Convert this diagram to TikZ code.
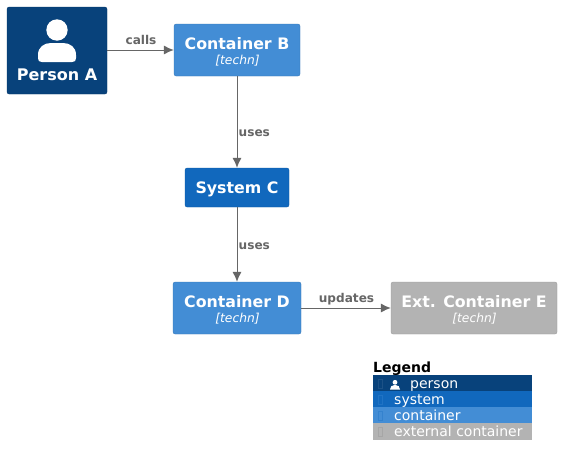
\documentclass[tikz,border=0pt]{standalone}
\usepackage{fontspec}
\setmainfont{DejaVu Sans}
\usetikzlibrary{arrows.meta}
\definecolor{personc}{HTML}{08427B}
\definecolor{systemc}{HTML}{1168BD}
\definecolor{containerc}{HTML}{438DD5}
\definecolor{extc}{HTML}{B3B3B3}
\definecolor{linec}{HTML}{666666}
\tikzset{
  x=1pt,y=-1pt,
  boxn/.style={draw=#1!85!black,line width=0.3pt,fill=#1,rounded corners=2pt,text=white,align=center,inner sep=0pt,font=\fontsize{15.8}{19}\selectfont\bfseries},
  conn/.style={draw=linec,line width=1pt,-{Latex[length=10pt,width=9pt,color=linec]}},
  rel/.style={text=linec,font=\fontsize{12.1}{14}\selectfont\bfseries,inner sep=0pt},
  legrow/.style={anchor=north west,minimum width=159pt,inner sep=0pt,outer sep=0pt},
  legtext/.style={anchor=base west,text=white,inner sep=0pt,font=\fontsize{14}{16}\selectfont},
  tofu/.style={draw=#1,line width=0.4pt,minimum width=4pt,minimum height=9pt,inner sep=0pt},
}
\newcommand{\lowr}[1]{\raisebox{-2pt}[\height][\depth]{#1}}
\newcommand{\tech}{\\[-4.5pt]\lowr{\fontsize{12.3}{14}\selectfont\mdseries\itshape\hspace{1pt}[techn]}}
\begin{document}
\begin{tikzpicture}
\useasboundingbox (0,0) rectangle (561,466);
\fill[white] (0,0) rectangle (561,466);
\node[boxn=personc,minimum width=100pt,minimum height=87pt] (a) at (57,50.5) {};
\node[text=white,font=\fontsize{16}{19}\selectfont\bfseries,inner sep=0pt] (alabel) at (57,75) {Person A};
\fill[white] (57,30) circle (10.7);
\fill[white] (38,58) -- (38,55) .. controls (38,47) and (44,43) .. (51,43) -- (63,43) .. controls (70,43) and (76,47) .. (76,55) -- (76,58) .. controls (76,61) and (75,62) .. (72,62) -- (42,62) .. controls (39,62) and (38,61) .. (38,58) -- cycle;
\node[boxn=containerc,minimum width=126pt,minimum height=52pt] (b) at (237,50) {\lowr{Container B}\tech};
\node[boxn=systemc,minimum width=104pt,minimum height=39pt] (c) at (237,187.5) {\lowr{System C}};
\node[boxn=containerc,minimum width=128pt,minimum height=52pt] (d) at (237,308) {\lowr{Container D}\tech};
\node[boxn=extc,minimum width=166pt,minimum height=52pt] (e) at (474,308) {\lowr{Ext. Container E}\tech};
\draw[conn] (a.east |- b.west) -- (b.west);
\draw[conn] (b) -- (c);
\draw[conn] (c) -- (d);
\draw[conn] (d) -- (e);
\node[rel] (l1) at (141,40) {calls};
\node[rel,anchor=west] (l2) at (238.5,133) {uses};
\node[rel,anchor=west] (l3) at (238.5,246) {uses};
\node[rel] (l4) at (346.5,299) {updates};
\node[anchor=base west,inner sep=0pt,font=\fontsize{14}{16}\selectfont\bfseries] (lt) at (373,372) {Legend};
\node[legrow,fill=personc,minimum height=16pt] (r1) at (373,375) {};
\node[legrow,fill=systemc,minimum height=16pt] (r2) at (373,391) {};
\node[legrow,fill=containerc,minimum height=16pt] (r3) at (373,407) {};
\node[legrow,fill=extc,minimum height=17pt] (r4) at (373,423) {};
\node[legtext] (t1) at (410,388) {person};
\node[legtext] (t2) at (394,404) {system};
\node[legtext] (t3) at (394,420) {container};
\node[legtext] (t4) at (394,436) {external container};
\node[tofu=personc!92!white] at (380.5,384) {};
\node[tofu=systemc!70!containerc] at (380.5,400) {};
\node[tofu=containerc!70!systemc] at (380.5,416) {};
\node[tofu=black!35] at (380.5,432) {};
\fill[white] (395,382.3) circle (2.4);
\fill[white] (390,389.5) .. controls (390,386.5) and (392,385.2) .. (394,385.2) -- (396,385.2) .. controls (398,385.2) and (400,386.5) .. (400,389.5) -- cycle;
\end{tikzpicture}
\end{document}
